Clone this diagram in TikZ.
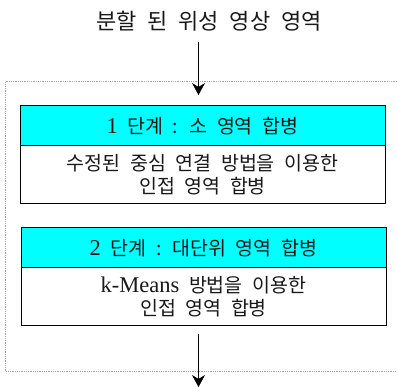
\documentclass[tikz,border=0pt]{standalone}
\usepackage{fontspec}
\setmainfont{Liberation Serif}
\newfontfamily\kr[WordSpace=2.2]{Noto Sans CJK KR}
\newcommand\latbig{\fontsize{22.5}{23}\selectfont}
\usetikzlibrary{arrows.meta}
\definecolor{hdcyan}{RGB}{0,255,255}
\definecolor{txtc}{RGB}{25,25,25}
\tikzset{
  hdr/.style={draw=black, line width=1pt, fill=hdcyan, minimum width=365pt, inner sep=0pt, text=txtc, font=\fontsize{19.5}{23}\selectfont},
  bodybox/.style={draw=black, line width=1pt, fill=white, minimum width=365pt, minimum height=58pt, inner sep=0pt, align=center, text=txtc, font=\fontsize{19.5}{23}\selectfont},
  flow/.style={line width=0.6pt, -{Stealth[length=12pt,width=13pt,inset=4pt]}},
  frame/.style={gray!70, line width=0.8pt, densely dotted}
}
\begin{document}
\begin{tikzpicture}[x=1pt,y=-1pt]
\useasboundingbox (0,0) rectangle (397,387);
\node[text=txtc, font=\fontsize{22}{26}\selectfont] (t) at (209,21) {\kr 분할 된 위성 영상 영역};
\draw[frame] (397,81.5) -- (5.5,81.5) -- (5.5,371.5) -- (397,371.5);
\node[hdr, minimum height=40pt] (h1) at (202.5,126) {{\latbig 1}{\kr\ 단계 : 소 영역 합병}};
\node[bodybox] (b1) at (202.5,175) {{\kr 수정된 중심 연결 방법을 이용한}\\{\kr 인접 영역 합병}};
\node[hdr, minimum height=41pt] (h2) at (203.5,248.5) {{\latbig 2}{\kr\ 단계 : 대단위 영역 합병}};
\node[bodybox] (b2) at (203.5,297) {{\latbig k-Means}{\kr\ 방법을 이용한}\\{\kr 인접 영역 합병}};
\coordinate (a1s) at (198.5,42);
\coordinate (a1e) at (198.5,95);
\coordinate (a2s) at (198.5,334);
\coordinate (a2e) at (198.5,387);
\draw[flow] (a1s) -- (a1e);
\draw[flow] (a2s) -- (a2e);
\end{tikzpicture}
\end{document}
